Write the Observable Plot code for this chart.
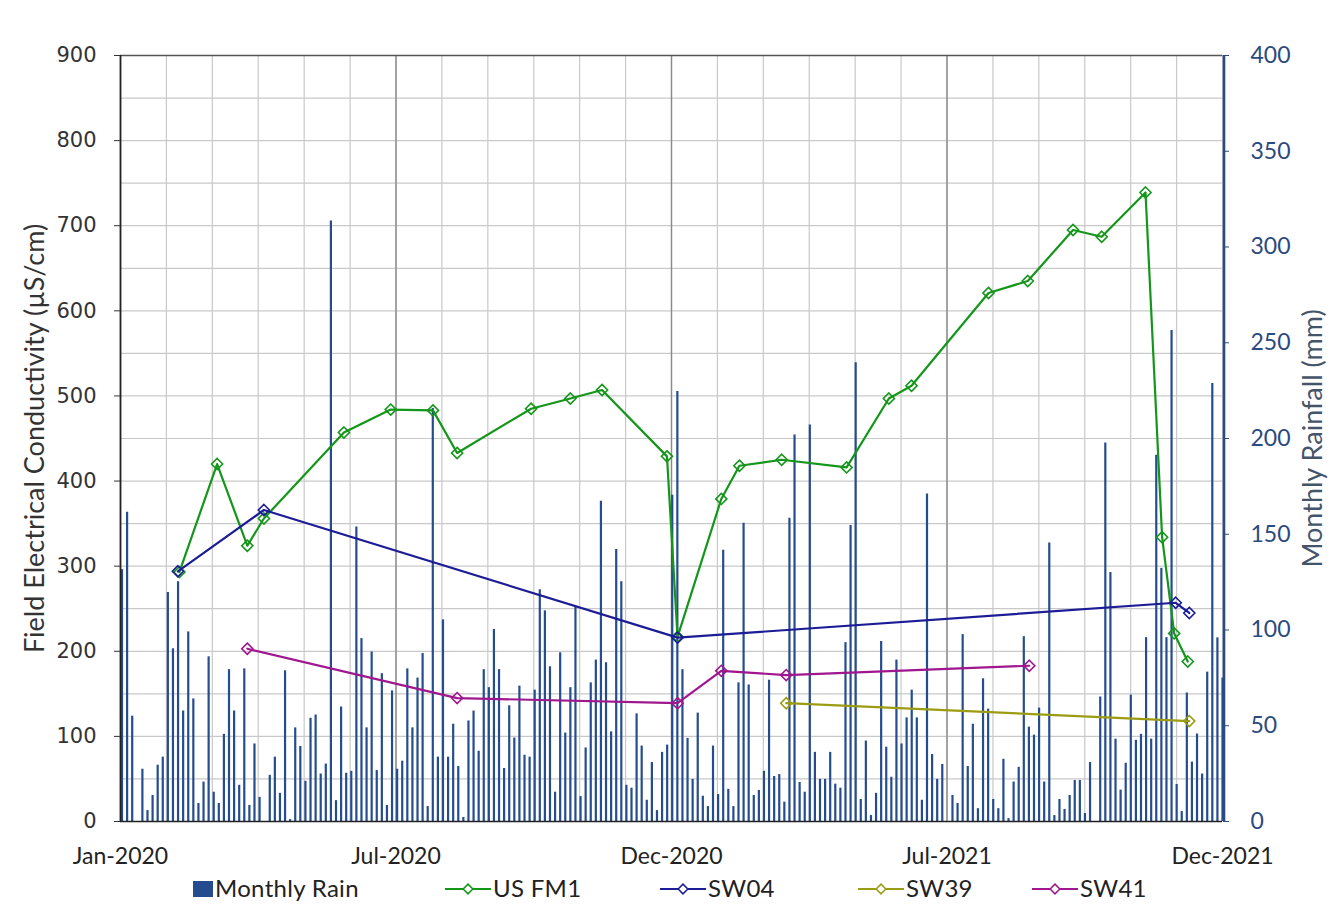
<!DOCTYPE html>
<html>
<head>
<meta charset="utf-8">
<script src="https://cdn.jsdelivr.net/npm/d3@7"></script>
<script src="https://cdn.jsdelivr.net/npm/@observablehq/plot@0.6"></script>
<style>
  body { margin: 0; background: #fff; }
  #wrap { position: relative; width: 1338px; height: 922px; overflow: hidden; font-family: Lato, sans-serif; }
  #legend { position: absolute; left: 0; top: 866px; }
</style>
</head>
<body>
<div id="wrap"><div id="chart"></div><svg id="legend" width="1338" height="50"></svg></div>
<script>
// ---------- data ----------
const xDomain = ["2020-01-01", "2021-12-31"];
const xTickLabels = ["Jan-2020", "Jul-2020", "Dec-2020", "Jul-2021", "Dec-2021"];
const ecTicks = [0, 100, 200, 300, 400, 500, 600, 700, 800, 900];
const rainTicks = [0, 50, 100, 150, 200, 250, 300, 350, 400];

// rainfall bars (mm), evenly spaced from rainStart to rainEnd
const rainStart = "2020-01-02";
const rainEnd = "2021-12-31";
const rainMm = [
  131.5, 161.5, 55, 0, 27.3, 5.7, 13.6, 29.4, 33.6, 119.6, 90.2, 125.2, 57.7, 99, 64, 9.4, 20.6, 86, 15.3, 9.4, 45.5, 79.3, 57.7, 18.9, 79.7, 8.4, 40.5,
  12.6, 0, 24.1, 33.6, 14.7, 78.7, 1, 48.9, 39.2, 21, 53.9, 55.6, 24.8, 30, 313.6, 10.9, 59.8, 25.2, 26.2, 153.8, 95.5, 48.9, 88.5, 26.6, 77.2, 8.4, 68.2,
  27.3, 31.5, 79.7, 48.9, 74.9, 87.7, 7.8, 215.7, 33.6, 105.3, 33.6, 50.8, 28.7, 2.1, 52.5, 57.7, 36.7, 79.3, 69.9, 100.3, 79.3, 27.7, 60.4, 43.6, 70.7, 34.6, 33.6,
  68.6, 121, 110, 80.8, 15.3, 88.1, 46.2, 69.9, 112.2, 13, 38.4, 72.4, 84.3, 167.2, 82.9, 46.8, 142, 125.2, 18.9, 17.4, 56.2, 39.4, 11.1, 30.8, 5.7, 36.1, 39.9, 170.4,
  224.5, 79.3, 43.4, 22, 56.6, 13.2, 7.8, 39.4, 14.1, 141.6, 16.8, 7.8, 72.4, 155.7, 71.3, 13.6, 16.2, 26.2, 73.8, 23.5, 24.5, 10.1, 158.4, 201.8, 20.4, 15.3, 207,
  36.1, 22, 22, 36.1, 19.5, 17.4, 93.4, 154.6, 239.6, 11.5, 42, 3.1, 14.7, 94, 38.8, 23.1, 84.3, 40.5, 54.1, 68.6, 54.1, 11.1, 171, 35, 22, 29.8, 0, 13.6,
  9.4, 97.6, 28.7, 50.8, 6.7, 74.5, 58.7, 11.5, 6.7, 32.5, 1.5, 20.6, 28.3, 96.5, 49.3, 45.1, 59.2, 20.6, 145.4, 3.1, 11.5, 6.3, 13.6, 21.4, 21.4, 4.2, 30.8,
  0, 65, 197.6, 130, 43, 16.4, 30.4, 66, 42.4, 45.5, 96, 43, 191.3, 132.2, 96, 256.4, 19.3, 5.2, 67.1, 31, 45.7, 24.8, 78, 228.7, 95.9, 74.9
];

const usfm1Dates = ["2020-02-09","2020-03-05","2020-03-25","2020-04-05","2020-05-28","2020-06-28","2020-07-26","2020-08-11","2020-09-29","2020-10-25","2020-11-15","2020-12-28","2021-01-04","2021-02-02","2021-02-14","2021-03-14","2021-04-26","2021-05-24","2021-06-08","2021-07-29","2021-08-24","2021-09-23","2021-10-12","2021-11-10","2021-11-21","2021-11-29","2021-12-08"];
const usfm1EC = [293, 420, 324, 356, 457, 484, 483, 433, 485, 497, 507, 429, 217, 379, 418, 425, 416, 497, 512, 621, 635, 695, 687, 739, 334, 221, 188];

const sw04Dates = ["2020-02-08","2020-04-05","2021-01-04","2021-11-30","2021-12-09"];
const sw04EC = [294, 366, 216, 257, 245];

const sw39Dates = ["2021-03-17","2021-12-09"];
const sw39EC = [139, 118];

const sw41Dates = ["2020-03-25","2020-08-11","2021-01-04","2021-02-02","2021-03-17","2021-08-25"];
const sw41EC = [203, 145, 139, 177, 172, 183];

const seriesNames = ["US FM1", "SW04", "SW39", "SW41"];
const seriesColors = ["#14961a", "#1c1c96", "#9c9c12", "#a0168e"];
const rainColor = "#254c8e";
const rainLabel = "Monthly Rain";

// ---------- build ----------
const ecMax = 900, rainMax = 400, k = ecMax / rainMax;
const x0 = new Date(xDomain[0]), x1 = new Date(xDomain[1]);
const t0 = new Date(rainStart).getTime(), t1 = new Date(rainEnd).getTime();
const rain = rainMm.map((v, i) => ({date: new Date(t0 + (t1 - t0) * i / (rainMm.length - 1)), mm: v}));

const span = x1 - x0;
const minorX = d3.range(25).map(i => new Date(+x0 + span * i / 24));
const majorX = d3.range(5).map(i => new Date(+x0 + span * i / 4));

const mk = (dates, vals) => dates.map((d, i) => ({date: new Date(d), ec: vals[i]}));
const series = [mk(usfm1Dates, usfm1EC), mk(sw04Dates, sw04EC), mk(sw39Dates, sw39EC), mk(sw41Dates, sw41EC)];

const marks = [
  Plot.gridY(d3.range(0, ecMax + 1, 50), {stroke: "#c9c9c9", strokeOpacity: 1, strokeWidth: 1.2}),
  Plot.gridX(minorX, {stroke: "#c9c9c9", strokeOpacity: 1, strokeWidth: 1.2}),
  Plot.gridX(majorX.slice(1, 4), {stroke: "#8a8a8a", strokeOpacity: 1, strokeWidth: 1.4}),
  Plot.ruleX(rain, {x: "date", y1: 0, y2: d => d.mm * k, stroke: rainColor, strokeWidth: 2.2}),
  Plot.ruleY([ecMax], {stroke: "#555", strokeWidth: 1.5}),
  Plot.ruleY([0], {stroke: "#222", strokeWidth: 1.5}),
  Plot.ruleX([x0], {stroke: "#222", strokeWidth: 1.8}),
  Plot.ruleX([x1], {stroke: "#2b4a80", strokeWidth: 2.6, dx: 1.5}),
];
series.forEach((s, i) => {
  marks.push(Plot.line(s, {x: "date", y: "ec", stroke: seriesColors[i], strokeWidth: 2.2}));
  marks.push(Plot.dot(s, {x: "date", y: "ec", symbol: "diamond2", r: 5, stroke: seriesColors[i], strokeWidth: 1.6, fill: "none"}));
});
marks.push(
  Plot.axisY(ecTicks, {anchor: "left", tickSize: 6, tickPadding: 18, fontSize: 21, fontFamily: "DejaVu Sans", color: "#333", label: null, tickFormat: d => d}),
  Plot.axisY(rainTicks.map(v => v * k), {anchor: "right", tickSize: 6, tickPadding: 22, fontSize: 23, fontFamily: "Lato", color: "#2b4a80", label: null, tickFormat: (d, i) => rainTicks[i]}),
  Plot.axisX(majorX, {anchor: "bottom", tickSize: 0, tickPadding: 26, fontSize: 23, fontFamily: "Lato", color: "#222", label: null, tickFormat: (d, i) => xTickLabels[i]}),
  Plot.text(["Field Electrical Conductivity (µS/cm)"], {frameAnchor: "left", textAnchor: "middle", dx: -85, rotate: -90, fontSize: 27, fontFamily: "Lato", fill: "#333"}),
  Plot.text(["Monthly Rainfall (mm)"], {frameAnchor: "right", textAnchor: "middle", dx: 91, rotate: -90, fontSize: 27, fontFamily: "Lato", fill: "#44546a"})
);

const chart = Plot.plot({
  width: 1338, height: 870,
  marginLeft: 120, marginRight: 116, marginTop: 55, marginBottom: 49,
  x: {type: "utc", domain: [x0, x1]},
  y: {domain: [0, ecMax]},
  style: {fontFamily: "Lato", overflow: "visible", background: "#fff"},
  marks
});
document.getElementById("chart").appendChild(chart);

// ---------- legend ----------
const leg = d3.select("#legend");
const cy = 23;
const legItems = [
  {type: "rect", label: rainLabel, color: rainColor, x: 193},
  {type: "line", label: seriesNames[0], color: seriesColors[0], x: 445},
  {type: "line", label: seriesNames[1], color: seriesColors[1], x: 660},
  {type: "line", label: seriesNames[2], color: seriesColors[2], x: 858},
  {type: "line", label: seriesNames[3], color: seriesColors[3], x: 1032}
];
legItems.forEach(it => {
  const g = leg.append("g");
  let tx;
  if (it.type === "rect") {
    g.append("rect").attr("x", it.x).attr("y", cy - 8).attr("width", 20).attr("height", 16).attr("fill", it.color);
    tx = it.x + 22;
  } else {
    g.append("line").attr("x1", it.x).attr("x2", it.x + 46).attr("y1", cy).attr("y2", cy).attr("stroke", it.color).attr("stroke-width", 2.2);
    g.append("path").attr("d", d3.symbol(d3.symbolDiamond2, 60)()).attr("transform", `translate(${it.x + 23},${cy})`)
      .attr("fill", "white").attr("stroke", it.color).attr("stroke-width", 1.5);
    tx = it.x + 48;
  }
  g.append("text").attr("x", tx).attr("y", cy).attr("dy", "0.35em").attr("font-size", 24).attr("letter-spacing", "0.3px")
    .attr("font-family", "Lato").attr("fill", "#222").text(it.label);
});
</script>
</body>
</html>
